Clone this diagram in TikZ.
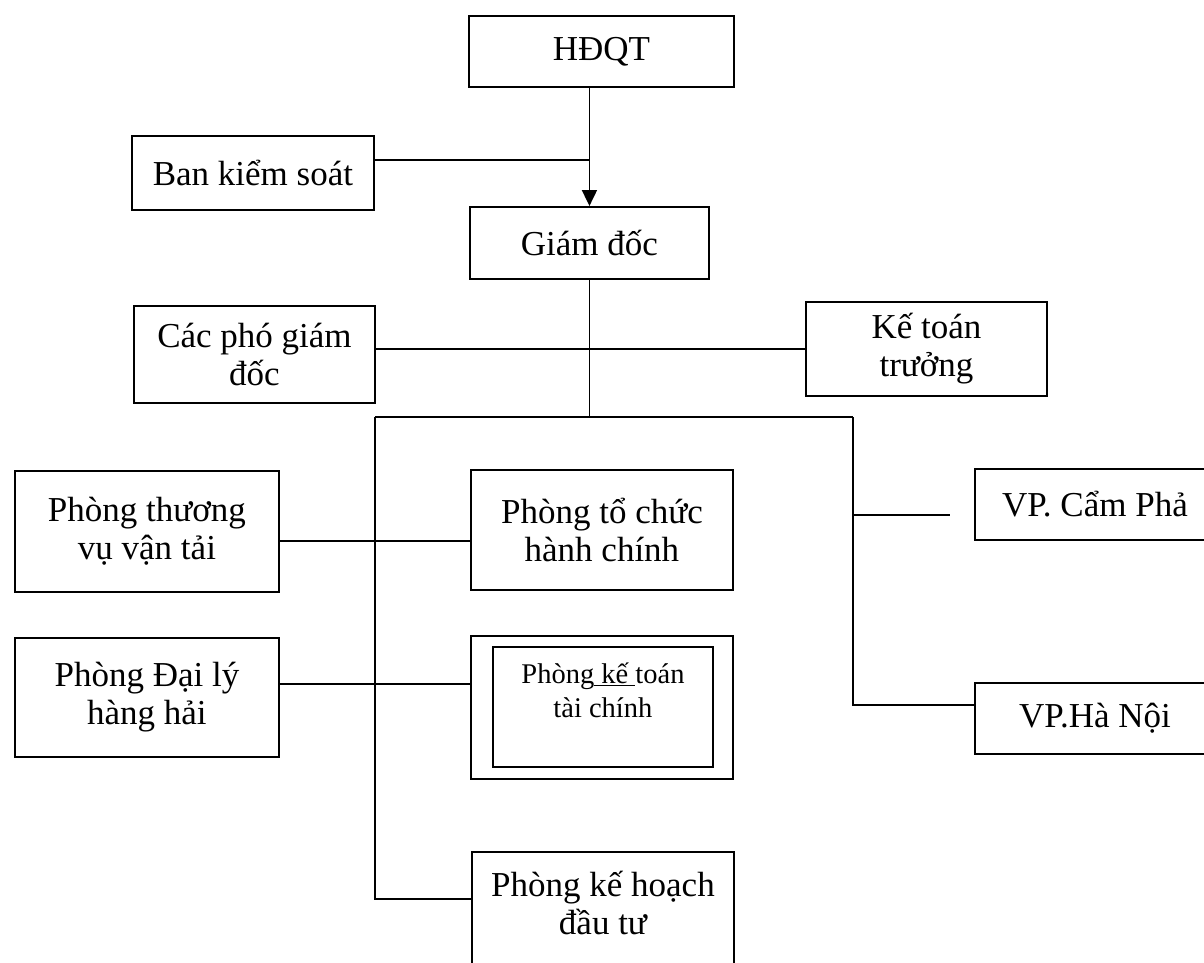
\documentclass[tikz,border=0pt]{standalone}
\usepackage{fontspec}
\setmainfont{Liberation Serif}
\usetikzlibrary{arrows.meta}
\begin{document}
\begin{tikzpicture}[x=1pt,y=-1pt,line width=1.9pt]
    \tikzset{box/.style = {draw, anchor=north west, align=center, inner sep=0pt, font=\fontsize{35}{38}\selectfont}}
    \tikzset{small/.style = {font=\fontsize{28.5}{34}\selectfont}}
    \tikzset{tip/.style = {-{Triangle[width=15pt,length=16pt]}}}
    \useasboundingbox (0,0) rectangle (1204,963);
    \node[box, minimum width=265pt, minimum height=71pt] (hdqt) at (468,15) {HĐQT};
    \node[box, minimum width=242pt, minimum height=74pt] (bks) at (131,135) {Ban kiểm soát};
    \node[box, minimum width=239pt, minimum height=72pt] (gd) at (469,206) {Giám đốc};
    \node[box, minimum width=241pt, minimum height=97pt] (pgd) at (133,305) {Các phó giám\\đốc};
    \node[box, minimum width=241pt, minimum height=94pt] (ktt) at (805,301) {Kế toán\\trưởng};
    \node[box, minimum width=264pt, minimum height=121pt] (ptv) at (14,470) {Phòng thương\\vụ vận tải};
    \node[box, minimum width=262pt, minimum height=120pt] (ptc) at (470,469) {Phòng tổ chức\\hành chính};
    \node[box, minimum width=264pt, minimum height=119pt] (pdl) at (14,637) {Phòng Đại lý\\hàng hải};
    \node[box, minimum width=262pt, minimum height=143pt] (pkt) at (470,635) {};
    \node[box, small, text depth=33pt, minimum width=220pt, minimum height=120pt] (pkti) at (492,646) {Phòng\underline{ kế }toán\\tài chính};
    \node[box, text depth=23pt, minimum width=262pt, minimum height=125pt] (pkh) at (471,851) {Phòng kế hoạch\\đầu tư};
    \node[box, minimum width=240pt, minimum height=71pt] (vpcp) at (974,468) {VP. Cẩm Phả};
    \node[box, minimum width=240pt, minimum height=71pt] (vphn) at (974,682) {VP.Hà Nội};
    \coordinate (jl) at (375,417);
    \coordinate (jr) at (853,417);
    \coordinate (jb) at (375,899);
    \coordinate (jh) at (853,705);
    \coordinate (cp) at (950,515);
    \draw[tip] (gd.north |- hdqt.south) -- (gd.north);
    \draw ([yshift=13pt]bks.east) -- ([yshift=13pt]bks.east -| gd.north);
    \draw (gd.south) -- (gd.south |- jl);
    \draw (pgd.east |- ktt.west) -- (ktt.west);
    \draw (jl) -- (jr);
    \draw (jl) -- (jb) -- (jb -| pkh.west);
    \draw (jr) -- (jh) -- (jh -| vphn.west);
    \draw (jr |- cp) -- (cp);
    \draw ([yshift=-9.5pt]ptv.east) -- ([yshift=-9.5pt]ptv.east -| ptc.west);
    \draw ([yshift=13.5pt]pdl.east) -- ([yshift=13.5pt]pdl.east -| pkt.west);
\end{tikzpicture}
\end{document}
